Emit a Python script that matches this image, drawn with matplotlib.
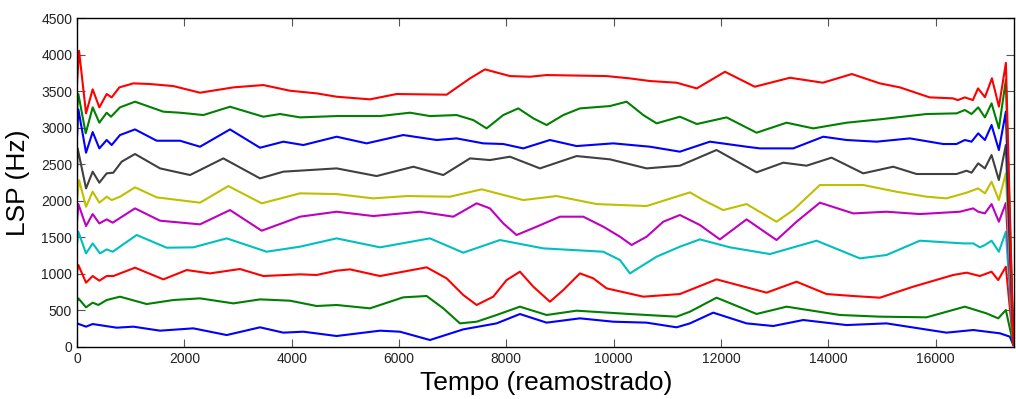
import matplotlib
matplotlib.use("Agg")
import matplotlib.pyplot as plt

plt.rcParams["font.family"] = ["Liberation Sans", "DejaVu Sans"]

# LSP tracks, bottom (1) to top (10)
x1 = [0, 168, 292, 739, 1050, 1547, 2168, 2789, 3410, 3845, 4217, 4838, 5646, 6018, 6577, 7198, 7819,
      8254, 8751, 9372, 9993, 10615, 11173, 11422, 11856, 12477, 12974, 13534, 14341, 15086, 16204,
      16701, 17198, 17384, 17450]
y1 = [320, 275, 311, 261, 275, 220, 252, 160, 266, 193, 206, 147, 220, 206, 92, 238, 320,
      448, 330, 389, 343, 330, 266, 320, 467, 320, 284, 366, 297, 320, 193,
      229, 184, 138, 20]

x2 = [0, 25, 168, 292, 398, 553, 801, 1298, 1795, 2292, 2913, 3410, 3969, 4466, 4838, 5459, 6080,
      6515, 6826, 7136, 7447, 7819, 8254, 8751, 9310, 10304, 11173, 11422, 11918, 12664, 13223,
      14217, 14962, 15831, 16545, 16949, 17167, 17309, 17450]
y2 = [617, 663, 540, 604, 572, 640, 686, 585, 640, 663, 594, 649, 631, 558, 572, 526, 677,
      695, 526, 320, 343, 435, 549, 435, 494, 448, 412, 480, 672, 449, 549,
      435, 412, 403, 549, 457, 389, 503, 30]

x3 = [0, 25, 168, 292, 416, 553, 677, 1081, 1609, 2044, 2478, 3037, 3472, 4155, 4466, 4838, 5087,
      5646, 6515, 6888, 7198, 7447, 7757, 8006, 8254, 8503, 8813, 9062, 9372, 9621, 9869, 10553,
      11235, 11918, 12850, 13409, 13968, 14465, 14962, 15583, 16328, 16577, 16825, 17043, 17167,
      17309, 17450]
y3 = [1028, 1120, 878, 969, 905, 969, 969, 1083, 923, 1051, 1005, 1065, 969, 992, 983, 1042, 1060,
      969, 1088, 937, 709, 572, 686, 914, 1028, 823, 617, 777, 1005, 937, 800, 686,
      722, 923, 741, 891, 722, 695, 672, 823, 983, 1015, 969, 1028, 914,
      1097, 30]

x4 = [0, 25, 168, 292, 429, 553, 665, 1112, 1671, 2168, 2789, 3534, 4155, 4838, 5646, 6577, 7198,
      7882, 8689, 9807, 10118, 10304, 10553, 10801, 11235, 11608, 12167, 12912, 13782, 14589,
      15086, 15707, 16514, 16701, 16825, 16919, 17043, 17179, 17309, 17450]
y4 = [1416, 1576, 1279, 1416, 1279, 1334, 1302, 1531, 1357, 1362, 1485, 1302, 1371, 1485, 1362, 1485, 1289,
      1462, 1348, 1302, 1188, 1005, 1120, 1234, 1371, 1471, 1362, 1270, 1453, 1211,
      1257, 1453, 1416, 1416, 1362, 1394, 1453, 1302, 1576, 30]

x5 = [0, 25, 168, 292, 416, 553, 665, 1081, 1547, 2292, 2851, 3441, 4155, 4838, 5521, 6391, 7012,
      7447, 7695, 7944, 8192, 8565, 8999, 9434, 9807, 10118, 10335, 10615, 10925, 11235, 11608,
      11980, 12477, 13036, 13409, 13844, 14465, 15086, 15707, 16452, 16701, 16794, 16919, 17043,
      17179, 17309, 17450]
y5 = [1713, 1955, 1654, 1818, 1690, 1745, 1700, 1896, 1727, 1677, 1873, 1590, 1782, 1850, 1791, 1850, 1782,
      1965, 1896, 1690, 1531, 1645, 1782, 1782, 1645, 1508, 1394, 1508, 1713, 1805, 1668,
      1471, 1745, 1462, 1713, 1974, 1827, 1850, 1818, 1850, 1896, 1850, 1827, 1955,
      1713, 1969, 30]

x6 = [0, 38, 168, 292, 416, 553, 646, 801, 1081, 1485, 2292, 2820, 3441, 4155, 4838, 5521, 6143,
      6950, 7540, 8316, 8938, 9683, 10615, 11421, 11670, 12042, 12477, 13036, 13347, 13844, 14651,
      15272, 15831, 16204, 16577, 16794, 16919, 17043, 17179, 17309, 17450]
y6 = [2000, 2284, 1919, 2124, 1974, 2056, 2010, 2056, 2184, 2047, 1974, 2202, 1965, 2102, 2092, 2033, 2065,
      2056, 2157, 2010, 2065, 1955, 1928, 2115, 2010, 1873, 1955, 1713, 1873, 2216, 2216,
      2124, 2056, 2033, 2111, 2170, 2102, 2262, 2010, 2376, 30]

x7 = [0, 12, 168, 292, 416, 553, 677, 832, 1081, 1547, 2106, 2727, 3410, 3845, 4838, 5584, 6267,
      6826, 7323, 7695, 8068, 8627, 9310, 9931, 10615, 11235, 11918, 12664, 13161, 13596, 14061,
      14651, 15210, 15645, 16390, 16577, 16670, 16794, 16919, 17043, 17179, 17309, 17450]
y7 = [2421, 2718, 2170, 2399, 2248, 2376, 2385, 2536, 2641, 2444, 2353, 2581, 2307, 2399, 2444, 2339, 2467,
      2353, 2581, 2558, 2604, 2444, 2613, 2568, 2444, 2481, 2696, 2390, 2522, 2481, 2591,
      2376, 2467, 2367, 2367, 2412, 2385, 2513, 2444, 2627, 2284, 2764, 30]

x8 = [0, 25, 168, 292, 416, 553, 646, 801, 1081, 1485, 1919, 2292, 2851, 3410, 3845, 4217, 4838,
      5397, 6080, 6702, 7074, 7571, 7944, 8316, 8813, 9310, 9993, 10677, 11235, 11794, 12477,
      12726, 13347, 13906, 14341, 14900, 15521, 16142, 16390, 16545, 16670, 16794, 16919, 17043,
      17179, 17309, 17450]
y8 = [2878, 3253, 2659, 2942, 2718, 2833, 2764, 2901, 2978, 2823, 2823, 2741, 2978, 2727, 2810, 2764, 2878,
      2787, 2901, 2833, 2855, 2787, 2778, 2718, 2833, 2750, 2787, 2741, 2673, 2810, 2741,
      2718, 2718, 2878, 2833, 2810, 2855, 2778, 2778, 2833, 2810, 2924, 2833, 3038,
      2695, 3221, 30]

x9 = [0, 25, 162, 292, 416, 553, 634, 801, 1081, 1609, 1919, 2354, 2851, 3472, 3782, 4155, 4838,
      5646, 6205, 6577, 7074, 7385, 7633, 7944, 8223, 8503, 8751, 9062, 9372, 9931, 10242, 10552,
      10801, 11236, 11550, 12105, 12664, 13223, 13720, 14341, 14962, 15831, 16390, 16545, 16670,
      16794, 16919, 17043, 17179, 17309, 17450]
y9 = [3244, 3463, 2924, 3280, 3070, 3207, 3152, 3280, 3358, 3221, 3207, 3175, 3289, 3152, 3189, 3143, 3161,
      3161, 3207, 3161, 3175, 3106, 2992, 3175, 3266, 3130, 3038, 3175, 3266, 3298, 3358, 3175,
      3061, 3152, 3052, 3143, 2933, 3070, 2992, 3070, 3116, 3189, 3198, 3244, 3189,
      3280, 3143, 3335, 2992, 3655, 30]

x10 = [0, 38, 168, 292, 416, 553, 646, 789, 1050, 1360, 1795, 2292, 2913, 3472, 3969, 4466, 4838,
       5459, 5956, 6888, 7323, 7602, 8068, 8441, 8751, 9869, 10304, 10677, 11173, 11550, 12075,
       12630, 13285, 13900, 14440, 14960, 15335, 15890, 16320, 16415, 16545, 16695, 16790, 16920,
       17050, 17180, 17310, 17450]
y10 = [3609, 4056, 3198, 3527, 3280, 3463, 3417, 3554, 3609, 3600, 3572, 3481, 3554, 3586, 3508, 3472, 3426,
       3390, 3463, 3454, 3677, 3801, 3709, 3700, 3723, 3709, 3677, 3641, 3618, 3540, 3768,
       3563, 3686, 3618, 3737, 3609, 3554, 3417, 3404, 3380, 3417, 3380, 3540, 3420,
       3678, 3290, 3890, 30]

xs = [x1, x2, x3, x4, x5, x6, x7, x8, x9, x10]
ys = [y1, y2, y3, y4, y5, y6, y7, y8, y9, y10]

# MATLAB default colour order
colors = ["#0000FF", "#008000", "#FF0000", "#00BFBF", "#BF00BF",
          "#BFBF00", "#404040", "#0000FF", "#008000", "#FF0000"]

fig = plt.figure(figsize=(10.16, 3.99), dpi=100)
ax = fig.add_axes([0.0758, 0.131, 0.9227, 0.823])

for x, y, c in zip(xs, ys, colors):
    ax.plot(x, y, color=c, lw=1.5, solid_joinstyle="round")

ax.set_xlim(0, 17470)
ax.set_ylim(0, 4500)
ax.set_xticks(range(0, 16001, 2000))
ax.set_yticks(range(0, 4501, 500))
ax.tick_params(direction="in", top=True, right=True, length=6, width=0.8,
               color="#555555", labelsize=10, labelcolor="#222222")
for sp in ax.spines.values():
    sp.set_linewidth(1.0)
    sp.set_color("black")

ax.set_xlabel("Tempo (reamostrado)", fontsize=19, labelpad=4)
ax.set_ylabel("LSP (Hz)", fontsize=19, labelpad=8)

fig.savefig("out.png", dpi=100, facecolor="white")
plt.close(fig)
